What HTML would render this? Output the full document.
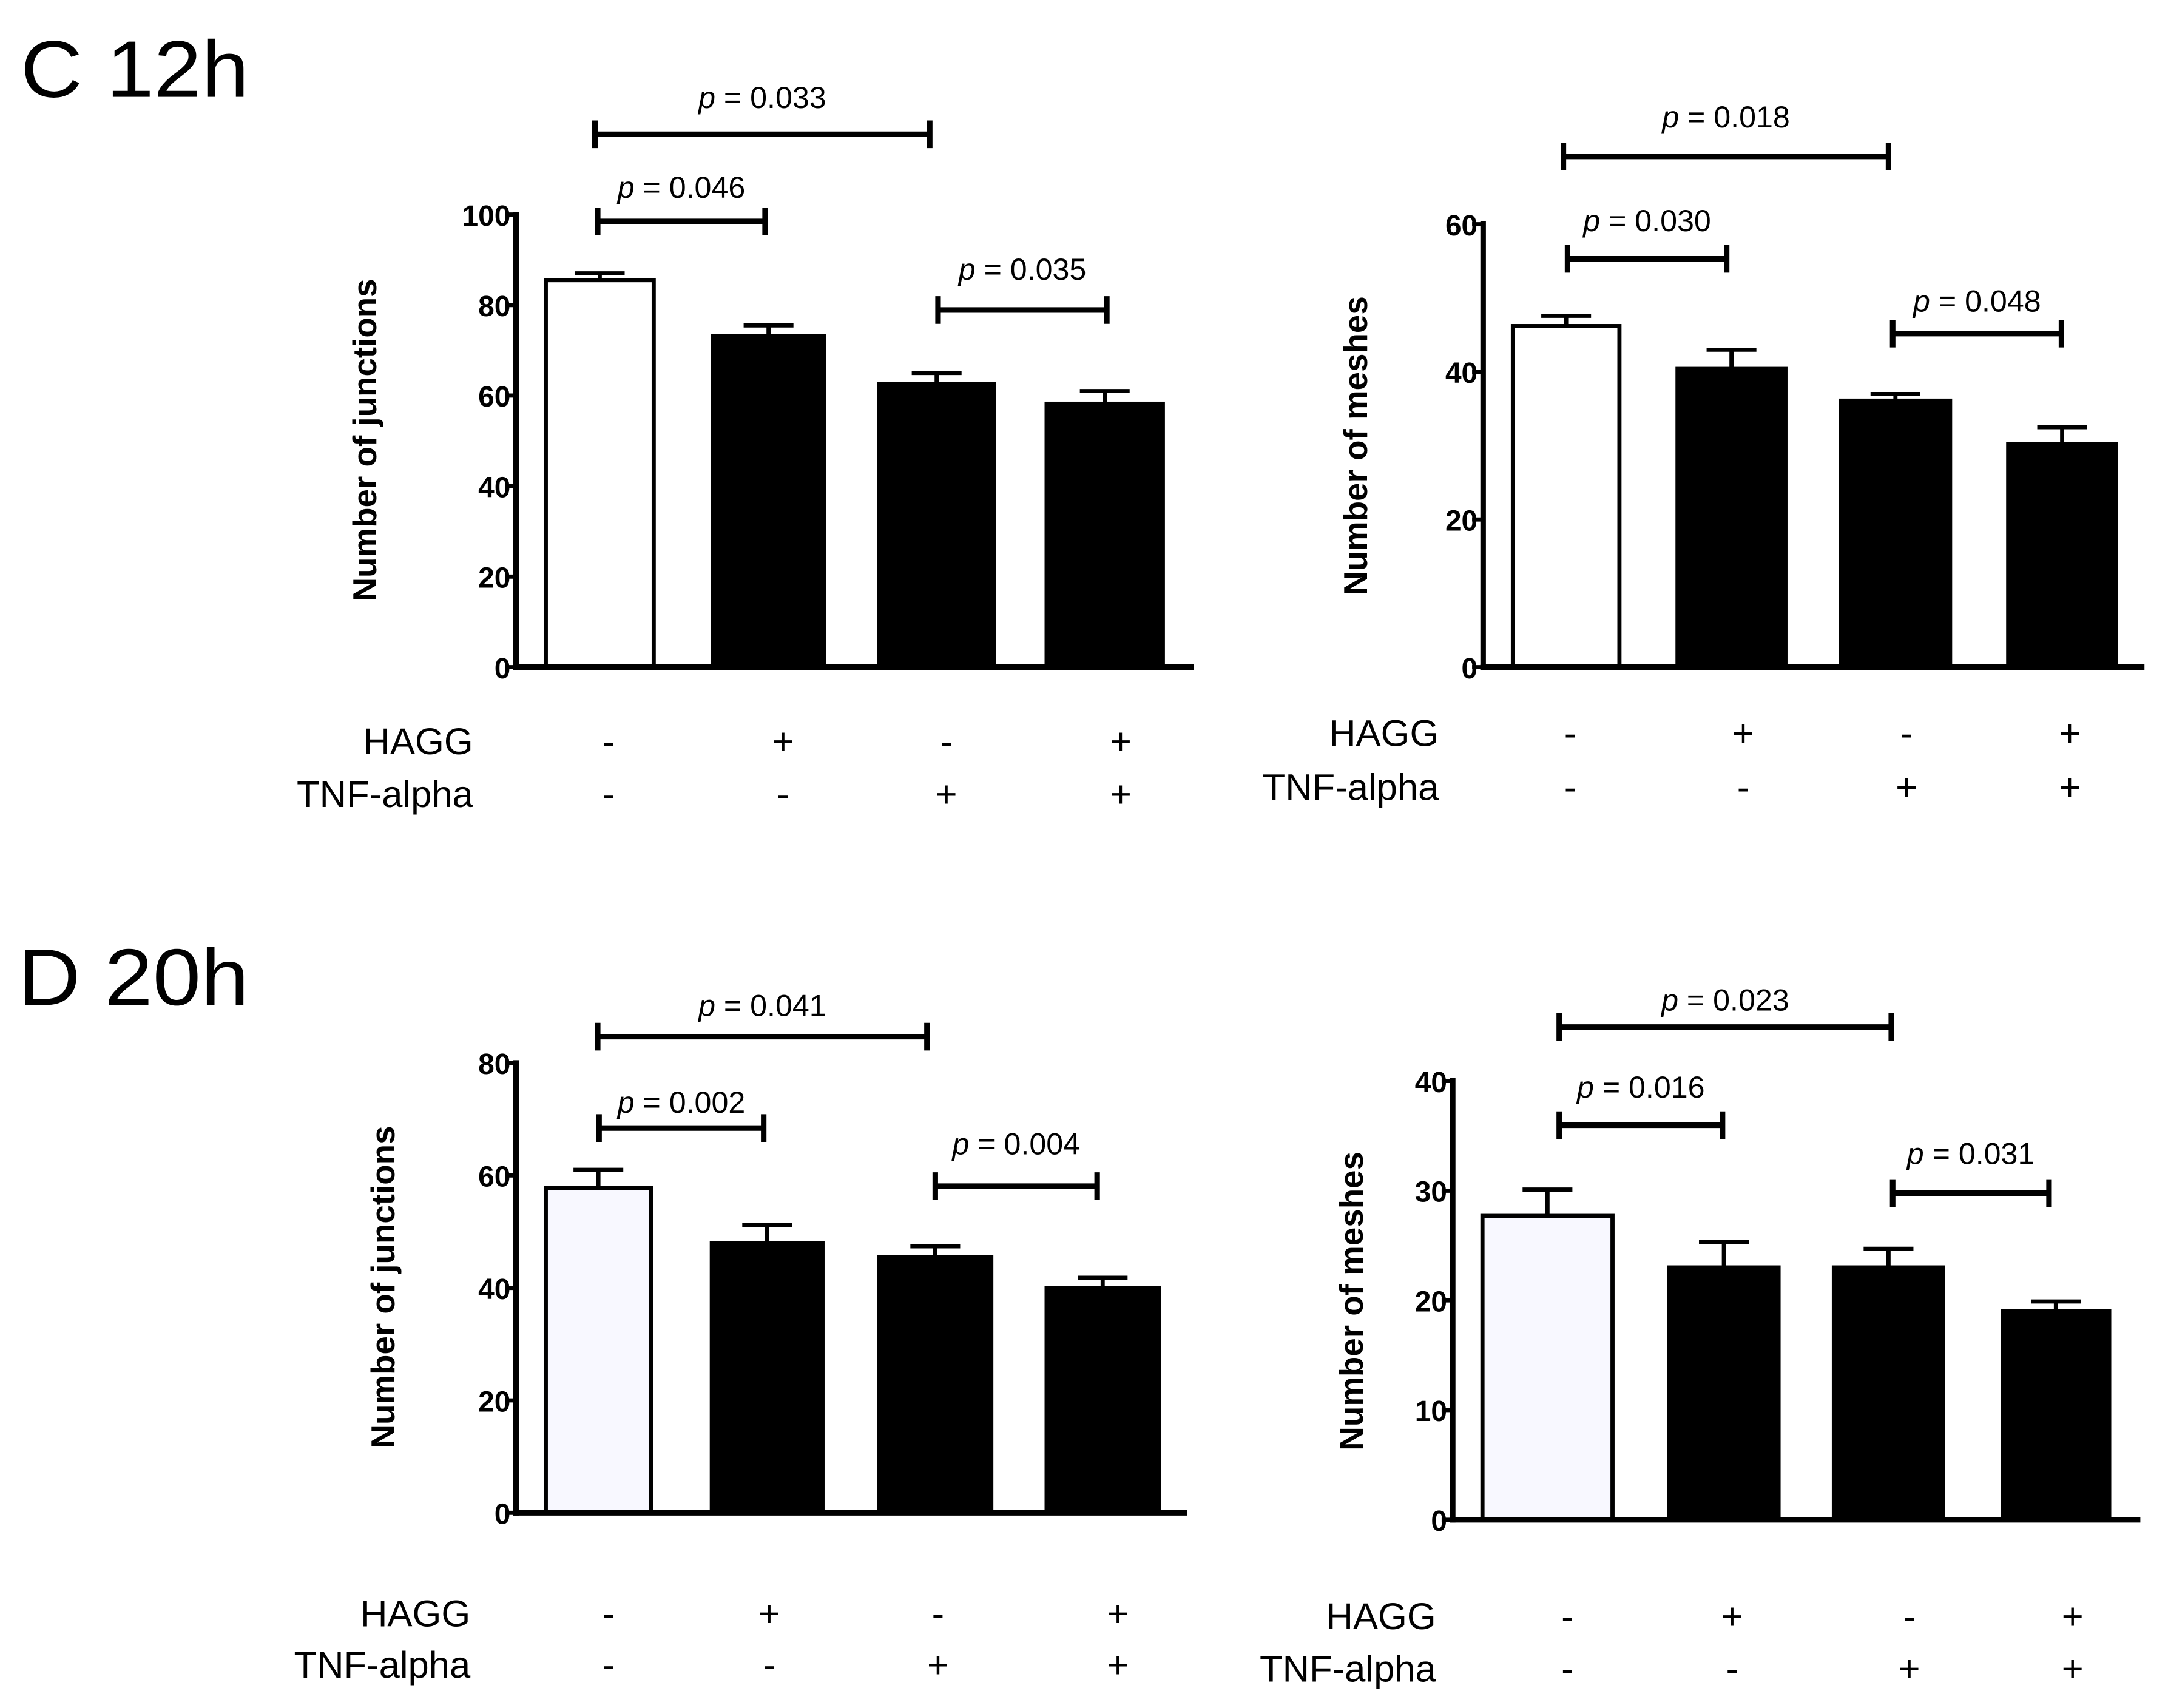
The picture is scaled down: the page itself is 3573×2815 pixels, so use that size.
<!DOCTYPE html>
<html><head><meta charset="utf-8">
<style>
html,body{margin:0;padding:0;background:#fff;}
svg{display:block;}
text{font-family:"Liberation Sans",sans-serif;fill:#000;}
</style></head>
<body>
<svg id="fig" width="3573" height="2815" viewBox="0 0 1567 1234" preserveAspectRatio="none" xmlns="http://www.w3.org/2000/svg">
<text x="15" y="70" font-size="58" textLength="165" lengthAdjust="spacingAndGlyphs">C 12h</text>
<text x="13" y="726" font-size="58" textLength="167" lengthAdjust="spacingAndGlyphs">D 20h</text>
</svg>
<script>
// Panel C left: junctions 12h
const c1Values = [85.5, 73.2, 62.5, 58.2];
const c1Errors = [87, 75.5, 65, 61];
const c1Ticks = [0, 20, 40, 60, 80, 100];
// Panel C right: meshes 12h
const c2Values = [46.2, 40.4, 36.1, 30.2];
const c2Errors = [47.6, 43, 37, 32.5];
const c2Ticks = [0, 20, 40, 60];
// Panel D left: junctions 20h
const d1Values = [57.8, 48, 45.5, 40];
const d1Errors = [61, 51.2, 47.4, 41.8];
const d1Ticks = [0, 20, 40, 60, 80];
// Panel D right: meshes 20h
const d2Values = [27.7, 23, 23, 19];
const d2Errors = [30.1, 25.3, 24.7, 19.9];
const d2Ticks = [0, 10, 20, 30, 40];
const haggSigns = ['-', '+', '-', '+'];
const tnfSigns = ['-', '-', '+', '+'];
const c1P = ['p = 0.033', 'p = 0.046', 'p = 0.035'];
const c2P = ['p = 0.018', 'p = 0.030', 'p = 0.048'];
const d1P = ['p = 0.041', 'p = 0.002', 'p = 0.004'];
const d2P = ['p = 0.023', 'p = 0.016', 'p = 0.031'];

const NS = 'http://www.w3.org/2000/svg';
const svg = document.getElementById('fig');
function mk(tag, attrs, parent) {
  const e = document.createElementNS(NS, tag);
  for (const k in attrs) e.setAttribute(k, attrs[k]);
  (parent || svg).appendChild(e);
  return e;
}

const panels = [
  {id:'c-junctions', vals:c1Values, errs:c1Errors, ticks:c1Ticks, p:c1P, title:'Number of junctions',
   ax:373, top:155, bot:482, xEnd:863, bars:[[393,474],[514,597],[634,720],[755,842]],
   tX:272, tY:318, brY:[97,160,224], brX:[[430,672],[432,553],[678,800]], ptY:[78,143,202],
   lblX:342, hY:545, nY:583, signX:[440,566,684,810], firstFill:'#ffffff'},
  {id:'c-meshes', vals:c2Values, errs:c2Errors, ticks:c2Ticks, p:c2P, title:'Number of meshes',
   ax:1072, top:162, bot:482, xEnd:1550, bars:[[1092,1172],[1211,1292],[1329,1411],[1450,1531]],
   tX:988, tY:322, brY:[113,187,241], brX:[[1130,1365],[1133,1248],[1368,1490]], ptY:[92,167,225],
   lblX:1040, hY:539, nY:578, signX:[1135,1260,1378,1496], firstFill:'#ffffff'},
  {id:'d-junctions', vals:d1Values, errs:d1Errors, ticks:d1Ticks, p:d1P, title:'Number of junctions',
   ax:373, top:768, bot:1093, xEnd:858, bars:[[393,472],[513,596],[634,718],[755,839]],
   tX:285, tY:930, brY:[749,815,857], brX:[[432,670],[433,552],[676,793]], ptY:[734,804,834],
   lblX:340, hY:1175, nY:1212, signX:[440,556,678,808], firstFill:'#f8f8ff'},
  {id:'d-meshes', vals:d2Values, errs:d2Errors, ticks:d2Ticks, p:d2P, title:'Number of meshes',
   ax:1050, top:781, bot:1098, xEnd:1547, bars:[[1070,1167],[1205,1287],[1324,1406],[1446,1526]],
   tX:985, tY:940, brY:[742,813,862], brX:[[1127,1367],[1127,1245],[1368,1481]], ptY:[730,793,841],
   lblX:1038, hY:1177, nY:1215, signX:[1133,1252,1380,1498], firstFill:'#f8f8ff'}
];

panels.forEach(P => {
  const g = mk('g', {});
  
  
  const maxT = P.ticks[P.ticks.length - 1];
  const y = v => P.bot - (v / maxT) * (P.bot - P.top);
  P.vals.forEach((v, i) => {
    const [x0, x1] = P.bars[i];
    const cx = (x0 + x1) / 2;
    const eb = mk('line', {x1:cx, x2:cx, y1:y(v), y2:y(P.errs[i]), stroke:'#000', 'stroke-width':3}, g);
    
    
    const cap = mk('line', {x1:cx-18, x2:cx+18, y1:y(P.errs[i]), y2:y(P.errs[i]), stroke:'#000', 'stroke-width':3}, g);
    
    
    const r = mk('rect', {x:x0+1.5, y:y(v), width:x1-x0-3, height:P.bot-y(v),
      fill: i === 0 ? P.firstFill : '#000', stroke:'#000', 'stroke-width':3}, g);
    
    
  });
  const ya = mk('line', {x1:P.ax, x2:P.ax, y1:P.top-2, y2:P.bot+2, stroke:'#000', 'stroke-width':4}, g);
  
  
  const xa = mk('line', {x1:P.ax-2, x2:P.xEnd, y1:P.bot, y2:P.bot, stroke:'#000', 'stroke-width':4}, g);
  
  
  P.ticks.forEach(t => {
    mk('line', {x1:P.ax-8, x2:P.ax, y1:y(t), y2:y(t), stroke:'#000', 'stroke-width':3}, g);
    const tl = mk('text', {x:P.ax-4, y:y(t)+8, 'font-size':21, 'font-weight':'bold', 'text-anchor':'end'}, g);
    tl.textContent = t;
    
    
  });
  const yt = mk('text', {x:P.tX, y:P.tY, 'font-size':24, 'font-weight':'bold', 'text-anchor':'middle',
    transform:'rotate(-90 ' + P.tX + ' ' + P.tY + ')'}, g);
  yt.textContent = P.title;
  
  
  P.p.forEach((s, i) => {
    const [bx0, bx1] = P.brX[i], by = P.brY[i];
    const bg = mk('g', {stroke:'#000', 'stroke-width':4}, g);
    
    
    mk('line', {x1:bx0, x2:bx1, y1:by, y2:by}, bg);
    mk('line', {x1:bx0, x2:bx0, y1:by-10, y2:by+10}, bg);
    mk('line', {x1:bx1, x2:bx1, y1:by-10, y2:by+10}, bg);
    const pt = mk('text', {x:(bx0+bx1)/2, y:P.ptY[i], 'font-size':22, 'text-anchor':'middle'}, g);
    
    
    const it = mk('tspan', {'font-style':'italic'}, pt);
    it.textContent = s.slice(0, 1);
    const rest = mk('tspan', {}, pt);
    rest.textContent = s.slice(1);
  });
  const h = mk('text', {x:P.lblX, y:P.hY, 'font-size':27, 'text-anchor':'end'}, g);
  h.textContent = 'HAGG';
  
  
  const n = mk('text', {x:P.lblX, y:P.nY, 'font-size':27, 'text-anchor':'end'}, g);
  n.textContent = 'TNF-alpha';
  
  
  P.signX.forEach((sx, i) => {
    const a = mk('text', {x:sx, y:P.hY, 'font-size':27, 'text-anchor':'middle'}, g);
    a.textContent = haggSigns[i];
    
    
    const b = mk('text', {x:sx, y:P.nY, 'font-size':27, 'text-anchor':'middle'}, g);
    b.textContent = tnfSigns[i];
    
    
  });
});
</script>
</body></html>
